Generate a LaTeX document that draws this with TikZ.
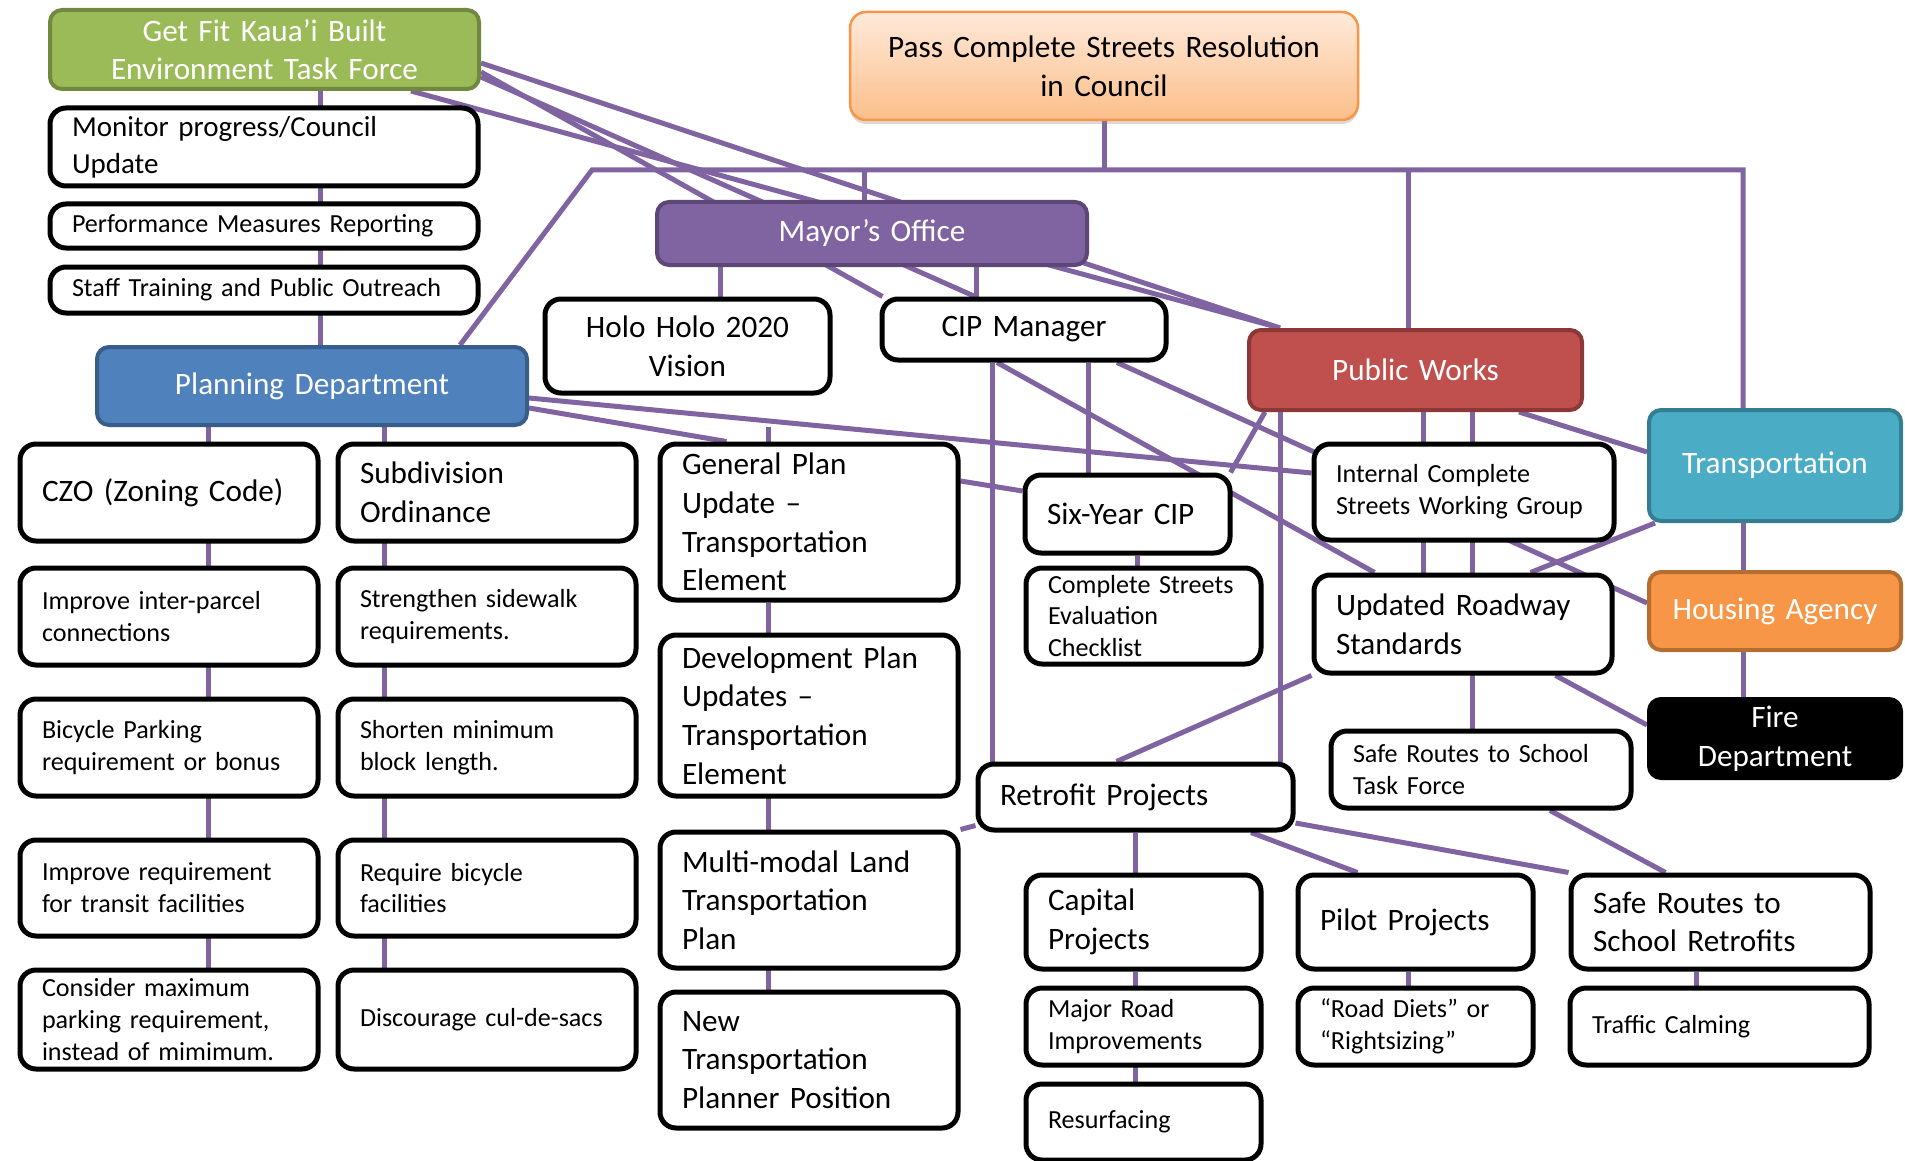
\documentclass[tikz,border=0pt]{standalone}
\usepackage{fontspec}
\setmainfont{Carlito}
\usepackage{tikz}
\usetikzlibrary{backgrounds,shadows}

\definecolor{linkpurple}{HTML}{8064A2}
\definecolor{fitgreen}{HTML}{9BBB59}
\definecolor{fitgreenline}{HTML}{71893F}
\definecolor{planblue}{HTML}{4F81BD}
\definecolor{planblueline}{HTML}{385D8A}
\definecolor{mayorline}{HTML}{5C4776}
\definecolor{worksred}{HTML}{C0504D}
\definecolor{worksredline}{HTML}{8C3836}
\definecolor{transcyan}{HTML}{4BACC6}
\definecolor{transcyanline}{HTML}{357D91}
\definecolor{houseorange}{HTML}{F79646}
\definecolor{houseorangeline}{HTML}{B66D31}
\definecolor{counciltop}{HTML}{FFE9DA}
\definecolor{councilbottom}{HTML}{FBBF8A}

\newcommand{\lgtext}{\fontsize{31.2}{38.7}\selectfont}
\newcommand{\mdtext}{\fontsize{29}{37}\selectfont}
\newcommand{\smtext}{\fontsize{26.1}{31.8}\selectfont}

\begin{document}
\begin{tikzpicture}[x=1pt, y=-1pt,
    link/.style={draw=linkpurple, line width=5pt},
    card/.style={draw=black, line width=5pt, rounded corners=16pt, fill=white, inner sep=0pt, align=left, font=\lgtext},
    smalltext/.style={font=\smtext},
    centred/.style={align=center},
    dept/.style={line width=4pt, rounded corners=12pt, inner sep=0pt, align=center, text=white, font=\lgtext},
    boxdim/.style n args={3}{minimum width=#1pt, minimum height=#2pt, text width=#3pt}]
    \useasboundingbox (0,0) rectangle (1905,1161);

    % top of the chart
    \node[dept, fill=fitgreen, draw=fitgreenline, boxdim={429}{79}{409}] (getfit) at (264.5,49.5) {Get Fit Kaua’i Built\\Environment Task Force};
    \node[card, font=\mdtext, boxdim={428}{78}{384}] (monitor) at (264,147) {Monitor progress/Council\\Update};
    \node[card, smalltext, boxdim={428}{44}{384}] (perf) at (264,226) {Performance Measures Reporting};
    \node[card, smalltext, boxdim={428}{46}{384}] (staff) at (264,290) {Staff Training and Public Outreach};
    \node[dept, fill=planblue, draw=planblueline, boxdim={430}{78}{410}] (planning) at (312,386) {Planning Department};
    \node[draw=houseorange, line width=2.5pt, rounded corners=16pt, top color=counciltop, bottom color=councilbottom,
          drop shadow={shadow xshift=0pt, shadow yshift=-4pt, opacity=0.3}, inner sep=0pt, align=center, font=\lgtext,
          boxdim={508}{108}{480}] (council) at (1104,66) {Pass Complete Streets Resolution\\in Council};
    \node[dept, fill=linkpurple, draw=mayorline, boxdim={430}{63}{410}] (mayor) at (872,233.5) {Mayor’s Office};
    \node[card, centred, boxdim={285}{94}{265}] (holo) at (687.5,346) {Holo Holo 2020\\Vision};
    \node[card, centred, boxdim={284}{61}{264}] (cipmgr) at (1024,329.5) {CIP Manager};

    % departments on the right
    \node[dept, fill=worksred, draw=worksredline, boxdim={333}{80}{313}] (pubworks) at (1415.5,370) {Public Works};
    \node[dept, fill=transcyan, draw=transcyanline, boxdim={252}{111}{240}] (transport) at (1775,465.5) {Transportation};
    \node[dept, fill=houseorange, draw=houseorangeline, boxdim={252}{78}{240}] (housing) at (1775,611) {Housing Agency};
    \node[dept, fill=black, draw=black, boxdim={252}{79}{240}] (fire) at (1775,738.5) {Fire\\Department};
    \node[card, smalltext, boxdim={300}{96}{256}] (icswg) at (1464,492) {Internal Complete\\Streets Working Group};
    \node[card, boxdim={298}{98}{254}] (roadstd) at (1463,624) {Updated Roadway\\Standards};
    \node[card, smalltext, boxdim={300}{77}{256}] (srtf) at (1481,769.5) {Safe Routes to School\\Task Force};

    % planning columns
    \node[card, boxdim={298}{97}{254}] (czo) at (169,492.5) {CZO (Zoning Code)};
    \node[card, boxdim={298}{97}{254}] (subdiv) at (487,492.5) {Subdivision\\Ordinance};
    \node[card, smalltext, boxdim={298}{97}{254}] (parcel) at (169,616.5) {Improve inter-parcel\\connections};
    \node[card, smalltext, boxdim={298}{97}{254}] (sidewalk) at (487,616.5) {Strengthen sidewalk\\requirements.};
    \node[card, smalltext, boxdim={298}{97}{254}] (bikepark) at (169,747.5) {Bicycle Parking\\requirement or bonus};
    \node[card, smalltext, boxdim={298}{97}{254}] (block) at (487,747.5) {Shorten minimum\\block length.};
    \node[card, smalltext, boxdim={298}{96}{254}] (transit) at (169,888) {Improve requirement\\for transit facilities};
    \node[card, smalltext, boxdim={298}{96}{254}] (bikefac) at (487,888) {Require bicycle\\facilities};
    \node[card, smalltext, boxdim={298}{99}{254}] (maxpark) at (169,1019.5) {Consider maximum\\parking requirement,\\instead of mimimum.};
    \node[card, smalltext, boxdim={298}{99}{254}] (culdesac) at (487,1019.5) {Discourage cul-de-sacs};
    \node[card, boxdim={298}{156}{254}] (genplan) at (809,522) {General Plan\\Update –\\Transportation\\Element};
    \node[card, boxdim={298}{161}{254}] (devplan) at (809,715.5) {Development Plan\\Updates –\\Transportation\\Element};
    \node[card, boxdim={298}{136}{254}] (multimodal) at (809,900) {Multi-modal Land\\Transportation\\Plan};
    \node[card, boxdim={298}{136}{254}] (planner) at (809,1060) {New\\Transportation\\Planner Position};

    % capital projects
    \node[card, boxdim={205}{78}{161}] (sixyear) at (1127.5,514) {Six-Year CIP};
    \node[card, smalltext, boxdim={235}{96}{191}] (checklist) at (1143.5,616) {Complete Streets\\Evaluation\\Checklist};
    \node[card, boxdim={315}{66}{271}] (retrofit) at (1135.5,797) {Retrofit Projects};
    \node[card, boxdim={235}{94}{191}] (capital) at (1143.5,922) {Capital\\Projects};
    \node[card, boxdim={235}{94}{191}] (pilot) at (1415.5,922) {Pilot Projects};
    \node[card, boxdim={299}{94}{255}] (srsr) at (1720.5,922) {Safe Routes to\\School Retrofits};
    \node[card, smalltext, boxdim={235}{77}{191}] (majorroad) at (1143.5,1026.5) {Major Road\\Improvements};
    \node[card, smalltext, boxdim={235}{77}{191}] (roaddiet) at (1415.5,1026.5) {“Road Diets” or\\“Rightsizing”};
    \node[card, smalltext, boxdim={299}{77}{255}] (calming) at (1719.5,1026.5) {Traffic Calming};
    \node[card, smalltext, boxdim={235}{76}{191}] (resurf) at (1143.5,1122) {Resurfacing};

    \begin{scope}[on background layer]
        % trees
        \draw[link] ([xshift=55.5]getfit.south) -- ([xshift=8]planning.north);
        \draw[link] ([xshift=-104]planning.south) -- ([xshift=39]maxpark.north);
        \draw[link] ([xshift=72]planning.south) -- ([xshift=-103]culdesac.north);
        \draw[link] ([shift={(-41,-15)}]genplan.north) -- ([xshift=-41]genplan.north);
        \draw[link] ([xshift=-41]genplan.south) -- ([xshift=-41]planner.north);
        % council bus
        \coordinate (busleft) at (592,170);
        \coordinate (busright) at (1743,170);
        \draw[link] (council.south) -- (council.south |- busleft);
        \draw[link] ([xshift=148]planning.north) -- (busleft) -- (busright) -- ([xshift=-32]transport.north);
        \draw[link] ([xshift=-8]mayor.north) -- +(0,-30);
        \draw[link] ([xshift=-7.5]pubworks.north) -- +(0,-158);
        \draw[link] ([xshift=-152]mayor.south) -- ([xshift=32.5]holo.north);
        \draw[link] ([xshift=104]mayor.south) -- ([xshift=-48]cipmgr.north);
        \draw[link] ([xshift=-32]transport.south) -- ([xshift=-32]fire.north);
        % task force
        \draw[link] ([shift={(0,13.5)}]getfit.east) -- ([xshift=33]pubworks.north west);
        \draw[link] ([xshift=-70]getfit.south east) -- ([xshift=33]pubworks.north west);
        \draw[link] ([shift={(0,22.5)}]getfit.east) -- ([xshift=3]cipmgr.north west);
        \draw[link] ([shift={(0,27.5)}]getfit.east) -- ([xshift=-49]cipmgr.north);
        % planning
        \draw[link] ([shift={(0,12)}]planning.east) -- ([shift={(0,-19)}]icswg.west);
        \draw[link] ([shift={(0,22)}]planning.east) -- ([xshift=69]genplan.north west);
        \draw[link] ([shift={(0,-41)}]genplan.east) -- ([shift={(0,-23)}]sixyear.west);
        % CIP manager
        \draw[link] ([xshift=-32]cipmgr.south) -- ([xshift=-143.5]retrofit.north);
        \draw[link] ([xshift=64]cipmgr.south) -- ([xshift=-39.5]sixyear.north);
        \draw[link] ([xshift=-27]cipmgr.south) -- ([xshift=63]roadstd.north west);
        \draw[link] ([xshift=93]cipmgr.south) -- ([shift={(0,-8)}]housing.west);
        \draw[link] ([xshift=9.5]sixyear.south) -- ([xshift=-6.5]checklist.north);
        % public works
        \draw[link] ([xshift=18]pubworks.south west) -- ([xshift=-2]sixyear.north east);
        \draw[link] ([xshift=33]pubworks.south west) -- ([xshift=33]pubworks.south west |- retrofit.north);
        \draw[link] ([xshift=7.5]pubworks.south) -- ([xshift=-40]roadstd.north);
        \draw[link] ([xshift=56.5]pubworks.south) -- ([xshift=-9]srtf.north);
        \draw[link] ([xshift=-65]pubworks.south east) -- ([shift={(0,-13.5)}]transport.west);
        \draw[link] ([xshift=8]transport.south west) -- ([xshift=-84]roadstd.north east);
        \draw[link] ([xshift=-59]roadstd.south east) -- ([shift={(0,-13.5)}]fire.west);
        \draw[link] (roadstd.south west) -- ([xshift=141]retrofit.north west);
        \draw[link] ([xshift=69]srtf.south) -- ([xshift=97]srsr.north west);
        % retrofits
        \draw[link] ([shift={(0,-7)}]retrofit.south west) -- (multimodal.north east);
        \draw[link] (retrofit.south) -- ([xshift=-8]capital.north);
        \draw[link] ([xshift=-8]capital.south) -- ([xshift=-8]resurf.north);
        \draw[link] ([xshift=115.5]retrofit.south) -- ([xshift=62]pilot.north west);
        \draw[link] ([shift={(0,26)}]retrofit.east) -- (srsr.north west);
        \draw[link] ([xshift=-7.5]pilot.south) -- ([xshift=-7.5]roaddiet.north);
        \draw[link] ([xshift=-24.5]srsr.south) -- ([xshift=-23.5]calming.north);
    \end{scope}
\end{tikzpicture}
\end{document}
